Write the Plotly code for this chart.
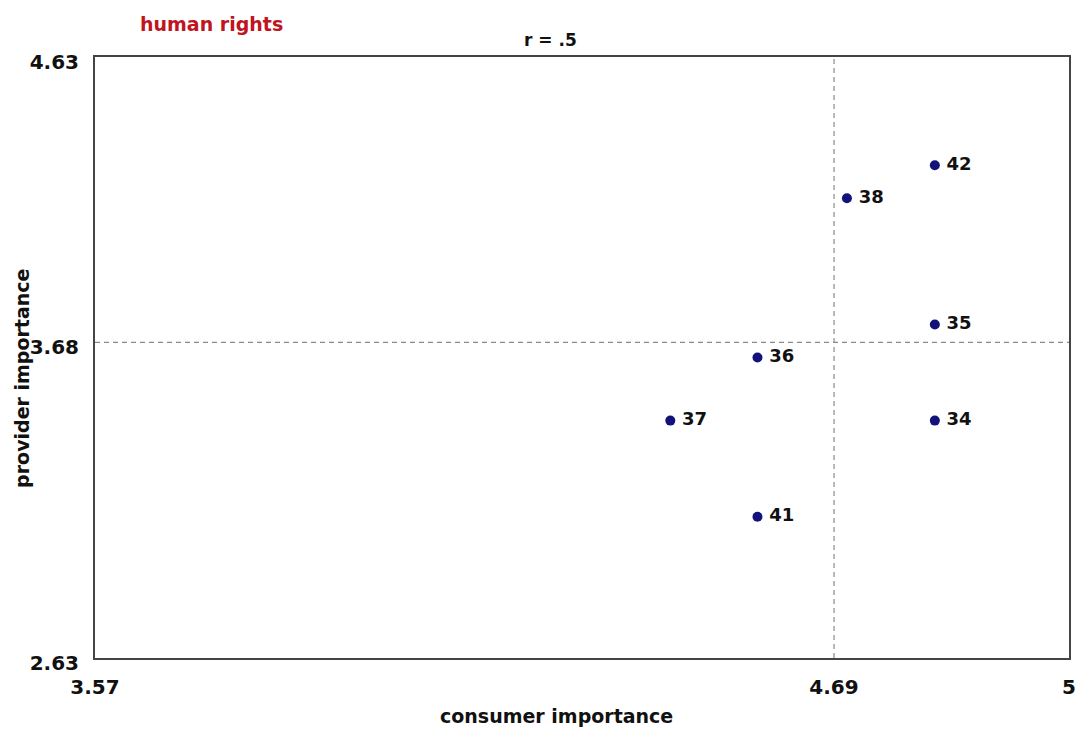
import plotly.graph_objects as go

# ---- data ----
point_ids = ["42", "38", "35", "36", "37", "34", "41"]
consumer_importance = [4.823, 4.707, 4.823, 4.589, 4.474, 4.823, 4.589]
provider_importance = [4.27, 4.16, 3.74, 3.63, 3.42, 3.42, 3.10]

x_mean = 4.69
y_mean = 3.68
x_tick_labels = ["3.57", "4.69", "5"]
y_tick_labels = ["2.63", "3.68", "4.63"]
y_tick_values = [2.63, 3.68, 4.63]
x_range = [3.715, 5.0]
y_range = [2.63, 4.63]

chart_title = "human rights"
corr_text = "r = .5"
x_title = "consumer importance"
y_title = "provider importance"

FONT = "DejaVu Sans"
TXT = "#111111"

fig = go.Figure()
fig.add_trace(go.Scatter(
    x=consumer_importance, y=provider_importance,
    mode="markers+text",
    text=point_ids,
    texttemplate="\u2005%{text}",
    textposition="middle right",
    textfont=dict(family=FONT, size=18, color=TXT, weight="bold"),
    marker=dict(size=10, color="#12127a", line=dict(width=0)),
    cliponaxis=False,
    showlegend=False,
    hoverinfo="skip",
))

fig.add_shape(type="line", xref="x", yref="paper", x0=x_mean, x1=x_mean, y0=0, y1=1,
              line=dict(color="#8a8a8a", width=1.2, dash="5px,4px"), layer="below")
fig.add_shape(type="line", xref="paper", yref="y", x0=0, x1=1, y0=y_mean, y1=y_mean,
              line=dict(color="#8a8a8a", width=1.2, dash="5px,4px"), layer="below")

fig.add_annotation(text=chart_title, xref="paper", yref="paper", x=0.044, y=1.055,
                   xanchor="left", yanchor="middle", showarrow=False,
                   font=dict(family=FONT, size=19, color="#c0141e", weight="bold"))
fig.add_annotation(text=corr_text, xref="paper", yref="paper", x=0.468, y=1.028,
                   xanchor="center", yanchor="middle", showarrow=False,
                   font=dict(family=FONT, size=17, color=TXT, weight="bold"))
fig.add_annotation(text=x_title, xref="paper", yref="paper", x=0.474, y=-0.096,
                   xanchor="center", yanchor="middle", showarrow=False,
                   font=dict(family=FONT, size=19, color=TXT, weight="bold"))
fig.add_annotation(text=y_title, xref="paper", yref="paper", x=-0.075, y=0.466,
                   xanchor="center", yanchor="middle", showarrow=False, textangle=-90,
                   font=dict(family=FONT, size=19, color=TXT, weight="bold"))

fig.update_layout(
    width=1075, height=729,
    margin=dict(l=95, r=6, t=57, b=71, autoexpand=False),
    paper_bgcolor="white", plot_bgcolor="white",
    font=dict(family=FONT, color=TXT),
    xaxis=dict(
        range=x_range, showgrid=False, zeroline=False, automargin=False,
        tickvals=[x_range[0], x_mean, x_range[1]], ticktext=x_tick_labels,
        tickfont=dict(family=FONT, size=20, color=TXT, weight="bold"),
        ticks="", ticklabelstandoff=10, ticklabeloverflow="allow",
        showline=True, linecolor="#444444", linewidth=2, mirror=True,
    ),
    yaxis=dict(
        range=y_range, showgrid=False, zeroline=False, automargin=False,
        tickvals=y_tick_values, ticktext=y_tick_labels,
        tickfont=dict(family=FONT, size=20, color=TXT, weight="bold"),
        ticks="", ticklabelstandoff=10, ticklabelshift=5, ticklabeloverflow="allow",
        showline=True, linecolor="#444444", linewidth=2, mirror=True,
    ),
)

fig.write_html(
    "out.html",
    config={"displayModeBar": False},
    post_script="document.body.style.margin='0';document.body.style.overflow='hidden';",
)
